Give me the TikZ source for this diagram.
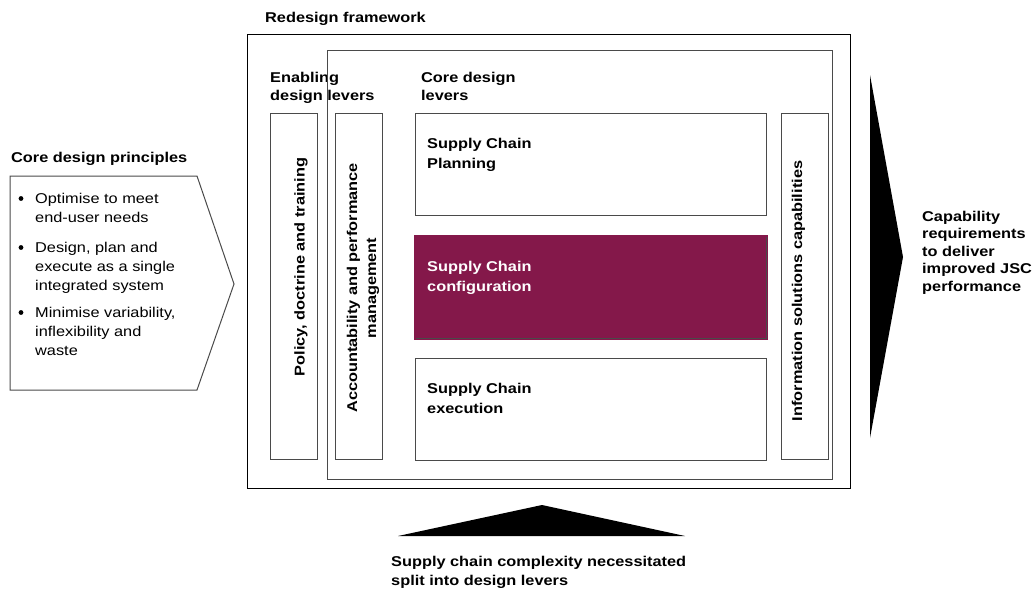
\documentclass[tikz,border=0pt]{standalone}
\usepackage{fontspec}
\setmainfont{Liberation Sans}[FakeStretch=1.15]
\usetikzlibrary{positioning,calc}
\definecolor{mMaroon}{HTML}{84184A}
\definecolor{mLine}{HTML}{4A4A4A}

\begin{document}
\begin{tikzpicture}[x=1pt,y=-1pt,
  txt/.style={inner sep=0pt,anchor=north west,align=left,font=\fontsize{14.2}{#1}\selectfont},
  txt/.default=19,
  hd/.style={txt=#1,font=\fontsize{14.2}{#1}\selectfont\bfseries},
  hd/.default=19,
  frame/.style={draw=#1,line width=1.1pt,inner sep=0pt,anchor=north west},
  frame/.default=mLine,
  lever/.style={frame,minimum width=47pt,minimum height=346pt},
  scbox/.style={frame,minimum width=351pt,minimum height=102pt},
  vlab/.style={rotate=90,align=center,inner sep=0pt,font=\fontsize{14.2}{19}\selectfont\bfseries}]
  \useasboundingbox (0,0) rectangle (1034,590);

  % titles
  \node[hd] (rf) at (265,12) {Redesign framework};
  \node[hd=18] (enab) at (270,72) {Enabling\\design levers};
  \node[hd=18] (core) at (421,72) {Core design\\levers};

  % frames
  \node[frame=black,minimum width=603pt,minimum height=454pt] (outer) at (247,34) {};
  \node[frame,minimum width=505pt,minimum height=429pt] (inner) at (327,50) {};

  % enabling levers
  \node[lever] (pol) at (270,113) {};
  \node[lever] (acc) at (335,113) {};
  \node[lever] (info) at (781,113) {};
  \node[vlab] (pol-t) at (301,267) {Policy, doctrine and training};
  \node[vlab] (acc-t) at (363,288) {Accountability and performance\\management};
  \node[vlab] (info-t) at (798.5,291) {Information solutions capabilities};

  % core levers
  \foreach \n/\y/\f/\c/\t in {%
      plan/113/white/black/{Supply Chain\\Planning},
      conf/236/mMaroon/white/{Supply Chain\\configuration},
      exec/358/white/black/{Supply Chain\\execution}}{%
    \node[scbox,fill=\f] (\n) at (415,\y) {};
    \node[hd=20,text=\c] (\n-t) at ([shift={(12,25)}]\n.north west) {\t};
  }
  \draw[mMaroon,line width=1.1pt] (conf.north west) rectangle (conf.south east);

  % principles
  \node[hd] (cdp) at (11,152) {Core design principles};
  \draw[mLine,line width=1pt] (10,176) -- (197,176) -- (234,284) -- (197,390) -- (10,390) -- cycle;
  \foreach \y/\t [count=\i] in {%
      193/{Optimise to meet\\end-user needs},
      242/{Design, plan and\\execute as a single\\integrated system},
      307/{Minimise variability,\\inflexibility and\\waste}}{%
    \fill (21,\y+5.5) circle (2.4);
    \node[txt] (pt\i) at (35,\y) {\t};
  }

  % outcome and driver
  \fill (870,75) -- (903,257) -- (870,438) -- cycle;
  \node[hd=17.5] (cap) at (922,211) {Capability\\requirements\\to deliver\\improved JSC\\performance};
  \fill (398,536) -- (542,505) -- (685,536) -- cycle;
  \node[hd=19.3] (cplx) at (391,556) {Supply chain complexity necessitated\\split into design levers};
\end{tikzpicture}
\end{document}
